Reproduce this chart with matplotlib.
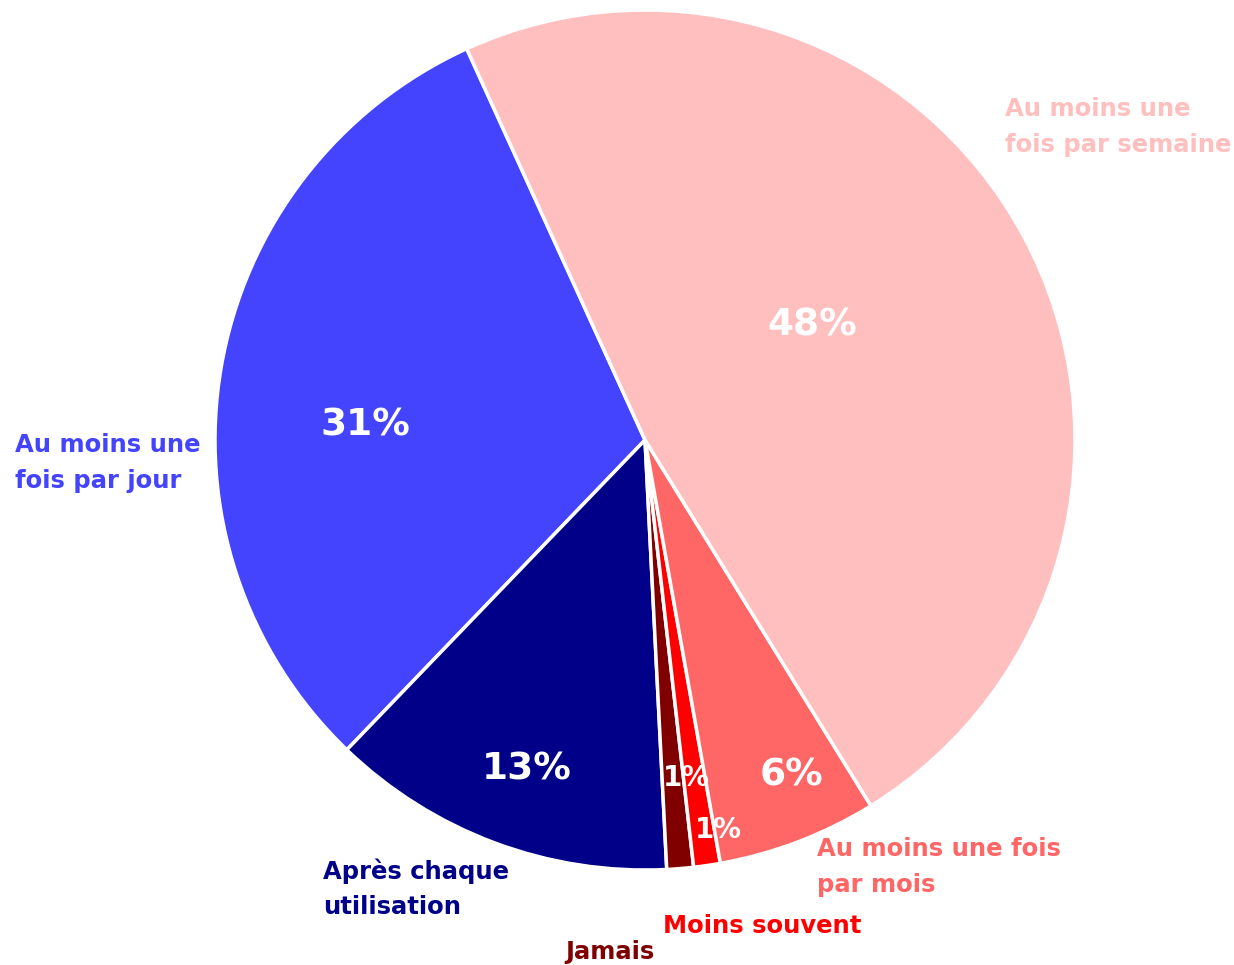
import matplotlib.pyplot as plt

# Data
categories = ['Au moins une\nfois par jour', 'Après chaque\nutilisation', 'Jamais',
              'Moins souvent', 'Au moins une fois\npar mois', 'Au moins une\nfois par semaine']
values = [31, 13, 1, 1, 6, 48]
colors = ['#4444FF', '#000088', '#800000', '#FF0000', '#FF6666', '#FFBFBF']

W, H = 1234, 965
cx, cy, R = 645, 440, 430


def px(x, y):
    # pixel position -> pie data units
    return (x - cx) / R, (cy - y) / R


# label placement (pixels): category label left/center, percent label center
cat_pos = [(15, 463), (323, 889), (565, 952), (663, 926), (817, 867), (1005, 127)]
pct_pos = [(365, 425), (527, 770), (686, 778), (718, 830), (792, 775), (812, 325)]
pct_size = [27, 27, 20, 20, 27, 27]

fig = plt.figure(figsize=(W / 100, H / 100), dpi=100)
ax = fig.add_axes([0, 0, 1, 1])
ax.pie(values, colors=colors, startangle=114.5, counterclock=True, radius=1,
       wedgeprops=dict(edgecolor='white', linewidth=2.5))
ax.set_xlim(-cx / R, (W - cx) / R)
ax.set_ylim(-(H - cy) / R, cy / R)
ax.set_aspect('equal')
ax.axis('off')

for lab, col, (x, y) in zip(categories, colors, cat_pos):
    tx, ty = px(x, y)
    ax.text(tx, ty, lab, color=col, fontsize=17.5, fontweight='bold', ha='left', va='center',
            linespacing=1.6)

for v, (x, y), s in zip(values, pct_pos, pct_size):
    tx, ty = px(x, y)
    ax.text(tx, ty, f'{v}%', color='white', fontsize=s, fontweight='bold', ha='center', va='center')

fig.savefig('out.png', dpi=100)
